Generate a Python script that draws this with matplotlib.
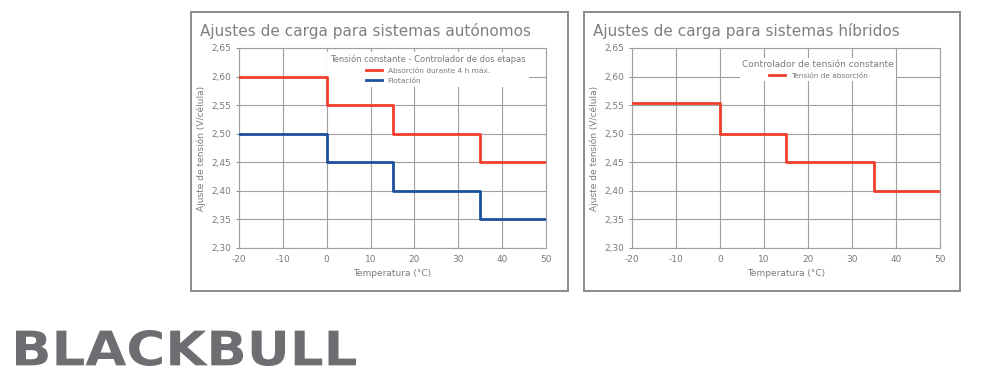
import matplotlib.pyplot as plt
from matplotlib.patches import Rectangle, PathPatch
from matplotlib.textpath import TextPath
from matplotlib.font_manager import FontProperties
from matplotlib.transforms import Affine2D
from matplotlib.ticker import FuncFormatter

# data
temps = [-20, 0, 15, 35, 50]
absorcion_aut = [2.60, 2.55, 2.50, 2.45, 2.45]
flotacion_aut = [2.50, 2.45, 2.40, 2.35, 2.35]
absorcion_hib = [2.553, 2.50, 2.45, 2.40, 2.40]
yticks = [2.30, 2.35, 2.40, 2.45, 2.50, 2.55, 2.60, 2.65]
xticks = [-20, -10, 0, 10, 20, 30, 40, 50]

RED = '#ef3e2a'
BLUE = '#1d4f9f'
GRID = '#a0a0a0'
TXT = '#7a7a7a'

plt.rcParams['font.family'] = ['DejaVu Sans']
plt.rcParams['axes.unicode_minus'] = False

fig = plt.figure(figsize=(10, 3.79), dpi=100)
W, H = 1000, 379


def fx(px):
    return px / W


def fy(py):
    return 1 - py / H


# panel frames
for x0, x1 in [(191, 568), (584, 960)]:
    fig.patches.append(Rectangle((fx(x0), fy(291)), fx(x1 - x0), (291 - 12) / H,
                                 transform=fig.transFigure, fill=False,
                                 edgecolor='#8a8a8a', linewidth=1.4))

fig.text(fx(200), fy(31), 'Ajustes de carga para sistemas autónomos',
         fontsize=11, color='#808080', va='center', ha='left')
fig.text(fx(593), fy(31), 'Ajustes de carga para sistemas híbridos',
         fontsize=11, color='#808080', va='center', ha='left')


def setup(ax):
    ax.set_xlim(-20, 50)
    ax.set_ylim(2.30, 2.65)
    ax.set_xticks(xticks)
    ax.set_yticks(yticks)
    ax.yaxis.set_major_formatter(FuncFormatter(lambda v, p: f'{v:.2f}'.replace('.', ',')))
    ax.grid(True, color=GRID, linewidth=0.8)
    ax.set_axisbelow(True)
    for s in ax.spines.values():
        s.set_color(GRID)
        s.set_linewidth(0.8)
    ax.tick_params(axis='both', labelsize=6.5, colors=TXT, length=2, width=0.6)
    ax.tick_params(axis='x', length=0, pad=5)
    ax.set_xlabel('Temperatura (°C)', fontsize=6.5, color=TXT, labelpad=4)
    ax.set_ylabel('Ajuste de tensión (V/célula)', fontsize=6.5, color=TXT, labelpad=4)


def style_legend(leg):
    for t in leg.get_texts():
        t.set_color(TXT)
    leg.get_title().set_color(TXT)
    leg.set_zorder(1)  # behind the lines, above the grid


ax1 = fig.add_axes([fx(239), fy(248), fx(546 - 239), (248 - 48) / H])
setup(ax1)
ax1.plot(temps, absorcion_aut, drawstyle='steps-post', color=RED, linewidth=2,
         label='Absorción durante 4 h máx.', zorder=3)
ax1.plot(temps, flotacion_aut, drawstyle='steps-post', color=BLUE, linewidth=2,
         label='Flotación', zorder=3)
leg1 = ax1.legend(title='Tensión constante - Controlador de dos etapas', loc='upper right',
                  bbox_to_anchor=(0.955, 1.0), fontsize=5.3, title_fontsize=6,
                  frameon=True, framealpha=1, edgecolor='none', fancybox=False,
                  handlelength=2.2, borderpad=0.4, labelspacing=0.5)
style_legend(leg1)

ax2 = fig.add_axes([fx(632), fy(248), fx(940 - 632), (248 - 48) / H])
setup(ax2)
ax2.plot(temps, absorcion_hib, drawstyle='steps-post', color=RED, linewidth=2,
         label='Tensión de absorción', zorder=3)
leg2 = ax2.legend(title='Controlador de tensión constante', loc='upper right',
                  bbox_to_anchor=(0.87, 0.97), fontsize=5.3, title_fontsize=6.5,
                  frameon=True, framealpha=1, edgecolor='none', fancybox=False,
                  handlelength=2.2, borderpad=0.3)
style_legend(leg2)

# logo text, scaled to fill its box
tp = TextPath((0, 0), 'BLACKBULL', size=10, prop=FontProperties(family='DejaVu Sans', weight='bold'))
bb = tp.get_extents()
x0, x1, y0, y1 = 16, 356, 330, 366
tr = Affine2D().translate(-bb.x0, -bb.y0).scale((x1 - x0) / bb.width, (y1 - y0) / bb.height) \
    .translate(x0, H - y1)
tp = tr.transform_path(tp)
fig.patches.append(PathPatch(tp, transform=Affine2D().scale(1 / W, 1 / H) + fig.transFigure,
                             facecolor='#6d6e71', edgecolor='none'))

fig.savefig('out.png', dpi=100, facecolor='white')
